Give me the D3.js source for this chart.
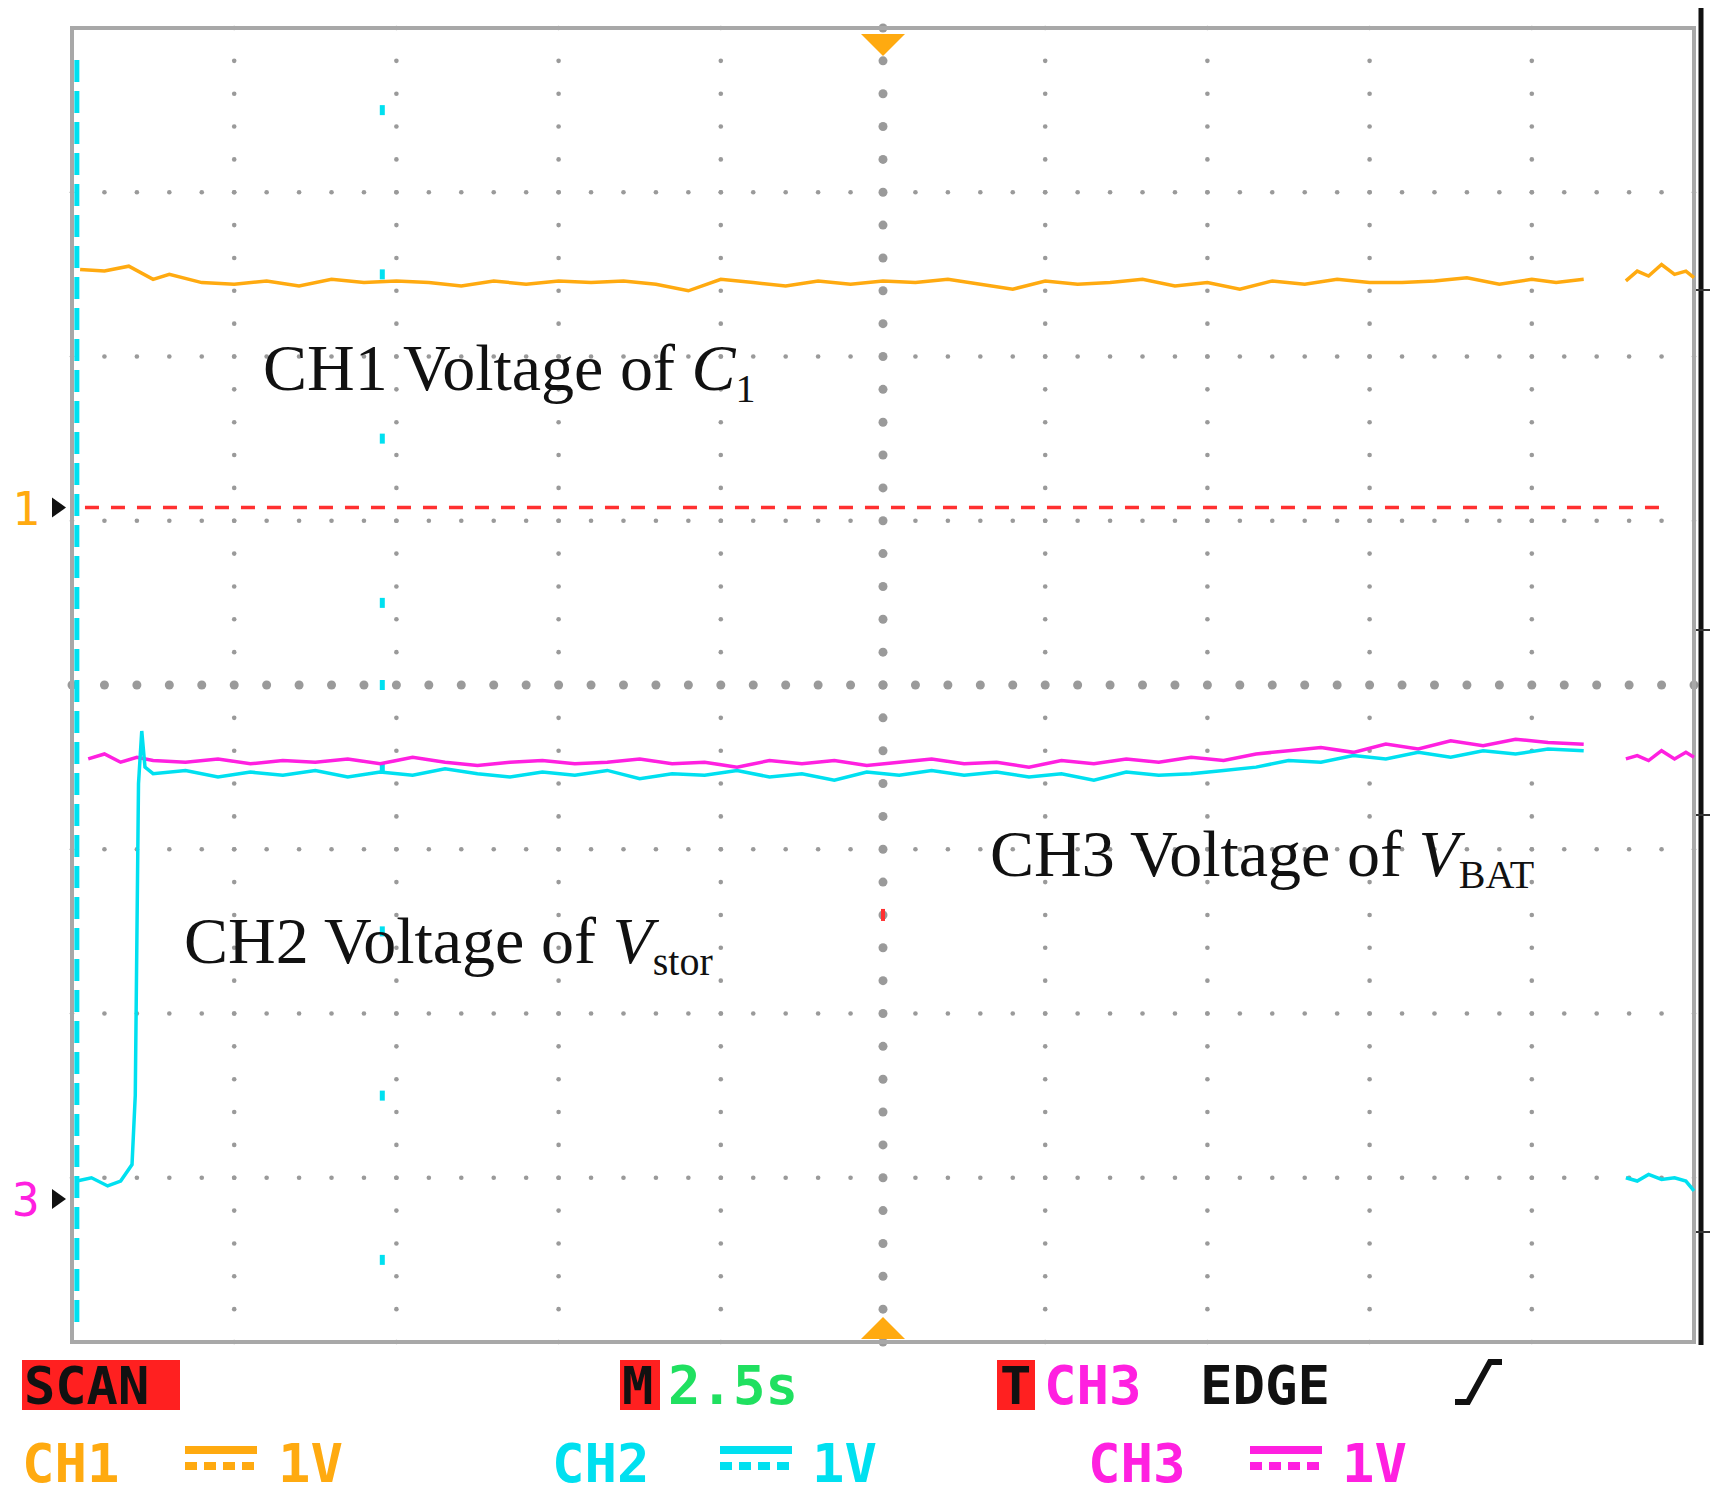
<!DOCTYPE html><html><head><meta charset="utf-8"><script src="https://cdn.jsdelivr.net/npm/d3@7"></script>
<style>body{margin:0;background:#fff}</style></head><body><svg id="c" width="1715" height="1499"></svg>
<script>
const ch1T=[0.05,0.2,0.35,0.5,0.6,0.8,1.0,1.2,1.4,1.6,1.8,2.0,2.2,2.4,2.6,2.8,3.0,3.2,3.4,3.6,3.8,4.0,4.2,4.4,4.6,4.8,5.0,5.2,5.4,5.6,5.8,6.0,6.2,6.4,6.6,6.8,7.0,7.2,7.4,7.6,7.8,8.0,8.2,8.4,8.6,8.8,9.0,9.15,9.32];
const ch1V=[2.53,2.52,2.55,2.47,2.5,2.45,2.44,2.46,2.43,2.47,2.45,2.46,2.45,2.43,2.46,2.44,2.46,2.45,2.46,2.44,2.4,2.47,2.45,2.43,2.46,2.44,2.46,2.45,2.47,2.44,2.41,2.46,2.44,2.45,2.47,2.43,2.45,2.41,2.46,2.44,2.47,2.45,2.45,2.46,2.48,2.44,2.47,2.45,2.47];
const ch1T2=[9.58,9.65,9.72,9.8,9.88,9.95,10];
const ch1V2=[2.46,2.52,2.49,2.56,2.5,2.52,2.48];
const ch2T=[0.03,0.12,0.22,0.3,0.37,0.39,0.41,0.43,0.45,0.5,0.7,0.9,1.1,1.3,1.5,1.7,1.9,2.1,2.3,2.5,2.7,2.9,3.1,3.3,3.5,3.7,3.9,4.1,4.3,4.5,4.7,4.9,5.1,5.3,5.5,5.7,5.9,6.1,6.3,6.5,6.7,6.9,7.1,7.3,7.5,7.7,7.9,8.1,8.3,8.5,8.7,8.9,9.1,9.32];
const ch2V=[-3.02,-3.0,-3.05,-3.02,-2.92,-2.5,-0.6,-0.28,-0.5,-0.54,-0.52,-0.56,-0.53,-0.55,-0.52,-0.56,-0.53,-0.55,-0.51,-0.54,-0.56,-0.53,-0.55,-0.52,-0.57,-0.54,-0.55,-0.52,-0.56,-0.54,-0.58,-0.53,-0.55,-0.52,-0.55,-0.53,-0.56,-0.54,-0.58,-0.53,-0.55,-0.54,-0.52,-0.5,-0.46,-0.47,-0.43,-0.45,-0.41,-0.44,-0.4,-0.42,-0.39,-0.4];
const ch2T2=[9.58,9.65,9.72,9.8,9.88,9.95,10];
const ch2V2=[-3.0,-3.02,-2.98,-3.01,-3.0,-3.02,-3.08];
const ch3T=[0.1,0.2,0.3,0.4,0.5,0.7,0.9,1.1,1.3,1.5,1.7,1.9,2.1,2.3,2.5,2.7,2.9,3.1,3.3,3.5,3.7,3.9,4.1,4.3,4.5,4.7,4.9,5.1,5.3,5.5,5.7,5.9,6.1,6.3,6.5,6.7,6.9,7.1,7.3,7.5,7.7,7.9,8.1,8.3,8.5,8.7,8.9,9.1,9.32];
const ch3V=[-0.45,-0.42,-0.47,-0.44,-0.46,-0.47,-0.45,-0.48,-0.46,-0.47,-0.45,-0.48,-0.44,-0.47,-0.49,-0.47,-0.46,-0.48,-0.47,-0.45,-0.48,-0.47,-0.5,-0.46,-0.48,-0.46,-0.49,-0.47,-0.45,-0.48,-0.47,-0.5,-0.46,-0.48,-0.45,-0.47,-0.44,-0.46,-0.42,-0.4,-0.38,-0.41,-0.36,-0.39,-0.34,-0.37,-0.33,-0.35,-0.36];
const ch3T2=[9.58,9.65,9.72,9.8,9.88,9.95,10];
const ch3V2=[-0.45,-0.43,-0.46,-0.4,-0.45,-0.41,-0.44];
const refLevel1=1.08, refLevel3=-3.13;
const xDiv=d3.range(0,11), yDiv=d3.range(-4,5);

const svg=d3.select("#c");
const x=d3.scaleLinear().domain([0,10]).range([72,1694]);
const y=d3.scaleLinear().domain([-4,4]).range([1342,28]);
const g=svg.append("g");
xDiv.slice(1,10).forEach(v=>{
  const big=v===5;
  d3.range(-4,4.01,0.2).forEach(u=>g.append("circle").attr("cx",x(v)).attr("cy",y(u)).attr("r",big?4.5:2.3).attr("fill","#9a9a9a"));
});
yDiv.slice(1,8).forEach(u=>{
  const big=u===0;
  d3.range(0,10.01,0.2).forEach(v=>g.append("circle").attr("cx",x(v)).attr("cy",y(u)).attr("r",big?4.5:2.3).attr("fill","#9a9a9a"));
});
g.append("rect").attr("x",x(0)).attr("y",y(4)).attr("width",x(10)-x(0)).attr("height",y(-4)-y(4)).attr("fill","none").attr("stroke","#a8a8a8").attr("stroke-width",4);
g.append("line").attr("x1",1701).attr("x2",1701).attr("y1",8).attr("y2",1345).attr("stroke","#111").attr("stroke-width",5);
[290,630,815,1232].forEach(yy=>g.append("line").attr("x1",1696).attr("x2",1710).attr("y1",yy).attr("y2",yy).attr("stroke","#333").attr("stroke-width",2));
g.append("line").attr("x1",x(0.03)).attr("x2",x(0.03)).attr("y1",60).attr("y2",1330).attr("stroke","#00e0f0").attr("stroke-width",5).attr("stroke-dasharray","22,9");
d3.range(-3.5,4,0.5).filter(u=>Math.abs(u%1)===0.5||u===0).forEach(u=>g.append("rect").attr("x",x(1.91)-2).attr("y",y(u)-5).attr("width",5).attr("height",10).attr("fill","#00e0f0"));
g.append("line").attr("x1",x(0.08)).attr("x2",x(9.85)).attr("y1",y(refLevel1)).attr("y2",y(refLevel1)).attr("stroke","#ff3030").attr("stroke-width",3.5).attr("stroke-dasharray","14,12");
g.append("rect").attr("x",x(5)-2).attr("y",y(-1.4)-6).attr("width",4).attr("height",12).attr("fill","#ff3030");
const line=d3.line().x(d=>x(d[0])).y(d=>y(d[1]));
function tr(T,V,c){g.append("path").attr("d",line(d3.zip(T,V))).attr("fill","none").attr("stroke",c).attr("stroke-width",3.5);}
tr(ch1T,ch1V,"#ffaa10");tr(ch1T2,ch1V2,"#ffaa10");
tr(ch3T,ch3V,"#ff20e0");tr(ch3T2,ch3V2,"#ff20e0");
tr(ch2T,ch2V,"#00e0f0");tr(ch2T2,ch2V2,"#00e0f0");
g.append("path").attr("d",`M${x(5)-22},${y(4)+6}L${x(5)+22},${y(4)+6}L${x(5)},${y(4)+28}Z`).attr("fill","#ffaa10");
g.append("path").attr("d",`M${x(5)-22},${y(-4)-3}L${x(5)+22},${y(-4)-3}L${x(5)},${y(-4)-25}Z`).attr("fill","#ffaa10");
function mk(v,lab,c){g.append("path").attr("d",`M52,${y(v)-10}L66,${y(v)}L52,${y(v)+10}Z`).attr("fill","#111");
 g.append("text").attr("x",12).attr("y",y(v)+17).attr("fill",c).attr("font-family","DejaVu Sans Mono").attr("font-size",46).text(lab);}
mk(refLevel1,"1","#ffaa10");mk(refLevel3,"3","#ff20e0");
const sf="Liberation Serif";
function ann(xx,yy,main,it,sub){const t=g.append("text").attr("x",xx).attr("y",yy).attr("font-family",sf).attr("font-size",66).attr("fill","#111");
 t.append("tspan").text(main);t.append("tspan").attr("font-style","italic").text(it);t.append("tspan").attr("font-size",40).attr("dy",12).text(sub);}
ann(263,390,"CH1 Voltage of ","C","1");
ann(990,876,"CH3 Voltage of ","V","BAT");
ann(184,963,"CH2 Voltage of ","V","stor");
const mf="DejaVu Sans Mono";
g.append("rect").attr("x",22).attr("y",1360).attr("width",158).attr("height",50).attr("fill","#ff2020");
function ft(xx,yy,s,c,sz){g.append("text").attr("x",xx).attr("y",yy).attr("font-family",mf).attr("font-weight","bold").attr("font-size",sz||56).attr("fill",c).text(s);}
ft(24,1404,"SCAN","#111",52);
g.append("rect").attr("x",620).attr("y",1360).attr("width",40).attr("height",50).attr("fill","#ff2020");
ft(622,1404,"M","#111",52);ft(668,1404,"2.5s","#20e060",54);
g.append("rect").attr("x",997).attr("y",1360).attr("width",38).attr("height",50).attr("fill","#ff2020");
ft(1000,1404,"T","#111",52);ft(1044,1404,"CH3","#ff20e0",54);ft(1200,1404,"EDGE","#111",54);
g.append("path").attr("d","M1455,1402L1468,1402L1490,1362L1502,1362").attr("fill","none").attr("stroke","#111").attr("stroke-width",6);
ft(22,1482,"CH1","#ffaa10",54);ft(552,1482,"CH2","#00e0f0",54);ft(1088,1482,"CH3","#ff20e0",54);
function cp(xx,c){g.append("rect").attr("x",xx).attr("y",1446).attr("width",72).attr("height",8).attr("fill",c);
 d3.range(4).forEach(i=>g.append("rect").attr("x",xx+i*19).attr("y",1462).attr("width",12).attr("height",8).attr("fill",c));}
cp(185,"#ffaa10");cp(720,"#00e0f0");cp(1250,"#ff20e0");
ft(278,1482,"1V","#ffaa10",54);ft(812,1482,"1V","#00e0f0",54);ft(1342,1482,"1V","#ff20e0",54);
</script></body></html>
